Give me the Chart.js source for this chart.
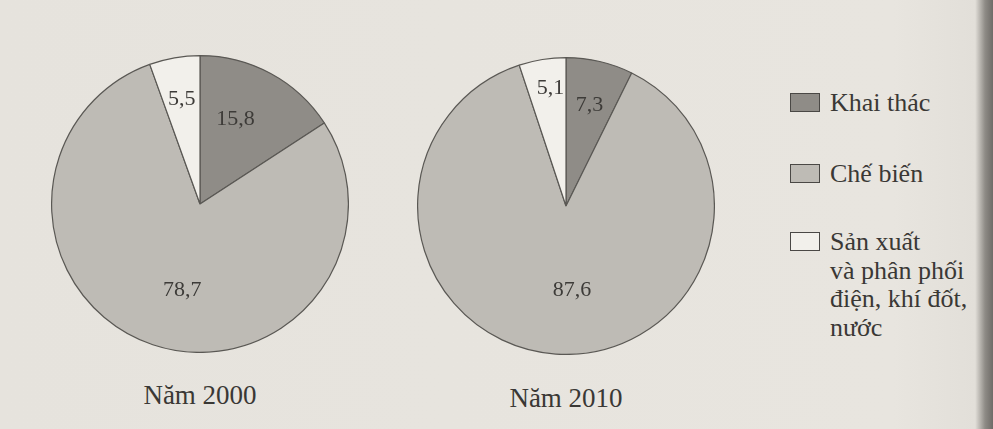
<!DOCTYPE html>
<html>
<head>
<meta charset="utf-8">
<script src="https://cdn.jsdelivr.net/npm/chart.js@4"></script>
<style>
  html, body { margin: 0; padding: 0; }
  body {
    width: 993px; height: 429px; position: relative; overflow: hidden;
    background: linear-gradient(to right, #e6e3dd 0%, #e8e5df 90%, #e2dfd9 98.2%, #8e8b86 99.2%, #6e6b67 100%);
    font-family: "Liberation Serif", "DejaVu Serif", serif;
    color: #3a3835;
  }
  .pie { position: absolute; }
  .caption { position: absolute; font-size: 27px; transform: translateX(-50%); white-space: nowrap; }
  #legend { position: absolute; left: 790px; top: 90px; font-size: 26px; }
  .item { position: absolute; left: 0; white-space: nowrap; }
  .box { position: absolute; left: 0; width: 30px; height: 19px; border: 1px solid #4a4845; box-sizing: border-box; }
  .txt { position: absolute; left: 40px; top: -1px; line-height: 28.5px; }
</style>
</head>
<body>
<canvas id="pie2000" class="pie" width="298" height="298" style="left:51px;top:55px"></canvas>
<canvas id="pie2010" class="pie" width="298" height="298" style="left:417px;top:57px"></canvas>
<div class="caption" style="left:200px;top:380px">Năm 2000</div>
<div class="caption" style="left:566px;top:383px">Năm 2010</div>
<div id="legend"></div>

<script>
// Categories and shares (%) of industrial production value
const sectors = ['Khai thác', 'Chế biến', 'Sản xuất\nvà phân phối\nđiện, khí đốt,\nnước'];
const values2000 = [15.8, 78.7, 5.5];
const values2010 = [7.3, 87.6, 5.1];

const sliceColors = ['#8f8c87', '#bebbb5', '#f2f0eb'];

// draws the value in each slice, comma as decimal mark
const sliceLabels = {
    id: 'sliceLabels',
    afterDatasetsDraw(chart, args, opts) {
        const ctx = chart.ctx;
        const meta = chart.getDatasetMeta(0);
        const data = chart.data.datasets[0].data;
        ctx.save();
        ctx.font = '22px "Liberation Serif", serif';
        ctx.fillStyle = '#3d3b38';
        ctx.textAlign = 'center';
        ctx.textBaseline = 'middle';
        meta.data.forEach(function(arc, i) {
            const p = arc.getProps(['x', 'y', 'startAngle', 'endAngle', 'outerRadius'], true);
            const mid = (p.startAngle + p.endAngle) / 2 + (opts.shift[i] || 0);
            const r = p.outerRadius * opts.dist[i];
            const x = p.x + Math.cos(mid) * r;
            const y = p.y + Math.sin(mid) * r;
            ctx.fillText(data[i].toFixed(1).replace('.', ','), x, y);
        });
        ctx.restore();
    }
};

function initPie(id, values, dist, shift) {
    const ctx = document.getElementById(id).getContext('2d');
    return new Chart(ctx, {
        type: 'pie',
        data: {
            labels: sectors,
            datasets: [{
                data: values,
                backgroundColor: sliceColors,
                borderColor: '#5a5854',
                borderWidth: 1.2
            }]
        },
        options: {
            responsive: false,
            animation: false,
            layout: { padding: 0 },
            plugins: {
                legend: { display: false },
                tooltip: { enabled: false },
                sliceLabels: { dist: dist, shift: shift }
            }
        },
        plugins: [sliceLabels]
    });
}

initPie('pie2000', values2000, [0.62, 0.59, 0.72], [-0.1, -0.12, 0]);
initPie('pie2010', values2010, [0.7, 0.57, 0.8], [0, -0.14, 0.03]);

// legend built from the same categories
const legend = document.getElementById('legend');
const tops = [0, 71, 139];
sectors.forEach(function(name, i) {
    const item = document.createElement('div');
    item.className = 'item';
    item.style.top = tops[i] + 'px';
    const box = document.createElement('div');
    box.className = 'box';
    box.style.background = sliceColors[i];
    box.style.top = '3px';
    const txt = document.createElement('div');
    txt.className = 'txt';
    txt.innerHTML = name.split('\n').join('<br>');
    item.appendChild(box);
    item.appendChild(txt);
    legend.appendChild(item);
});
</script>
</body>
</html>
